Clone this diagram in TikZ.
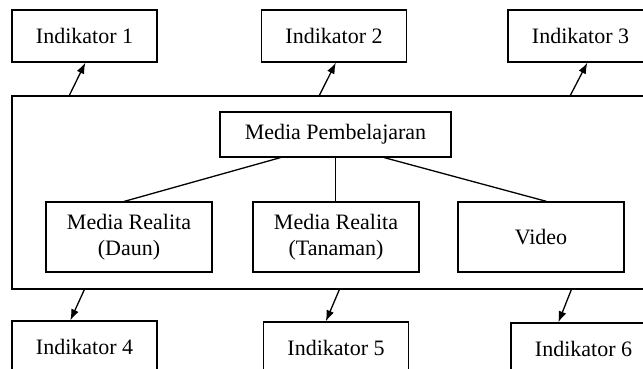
\documentclass[tikz,border=0pt]{standalone}
\usepackage{fontspec}
\setmainfont{Liberation Serif}
\usetikzlibrary{arrows.meta}
\begin{document}
\begin{tikzpicture}[x=1pt,y=-1pt,
  box/.style={draw,line width=1.3pt,inner sep=0pt,align=center,
    font=\fontsize{22}{26}\selectfont},
  ind/.style={box,minimum width=145pt,minimum height=52pt},
  child/.style={box,minimum width=166pt,minimum height=70pt},
  link/.style={line width=1.3pt},
  arr/.style={line width=1.3pt,-{Latex[length=11pt,width=8pt]}}]
\useasboundingbox (0,0) rectangle (643,369);
\node[draw,line width=1.3pt,minimum width=642pt,minimum height=193pt,inner sep=0pt] (frame) at (333,192.5) {};
\node[ind] (i1) at (84.5,36) {Indikator 1};
\node[ind] (i2) at (334,36) {Indikator 2};
\node[ind] (i3) at (580.5,36) {Indikator 3};
\node[ind] (i4) at (84.5,347) {Indikator 4};
\node[ind] (i5) at (336,348) {Indikator 5};
\node[ind] (i6) at (583.5,349) {Indikator 6};
\node[box,minimum width=231pt,minimum height=45pt] (mp) at (335.5,134.5) {Media Pembelajaran};
\node[child] (d) at (129,237) {Media Realita\\(Daun)};
\node[child] (t) at (336,237) {Media Realita\\(Tanaman)};
\node[child] (v) at (541,237) {Video};
\draw[link] ([xshift=61pt]mp.south west) -- ([xshift=79pt]d.north west);
\draw[link] (mp.south) -- (mp.south |- t.north);
\draw[link] ([xshift=165pt]mp.south west) -- ([xshift=89pt]v.north west);
\draw[arr] ([xshift=58pt]frame.north west) -- ([xshift=74pt]i1.south west);
\draw[arr] ([xshift=308pt]frame.north west) -- ([xshift=75pt]i2.south west);
\draw[arr] ([xshift=559pt]frame.north west) -- ([xshift=80pt]i3.south west);
\draw[arr] ([xshift=73pt]frame.south west) -- ([xshift=59pt]i4.north west);
\draw[arr] ([xshift=328pt]frame.south west) -- ([xshift=63pt]i5.north west);
\draw[arr] ([xshift=560pt]frame.south west) -- ([xshift=48pt]i6.north west);
\end{tikzpicture}
\end{document}
